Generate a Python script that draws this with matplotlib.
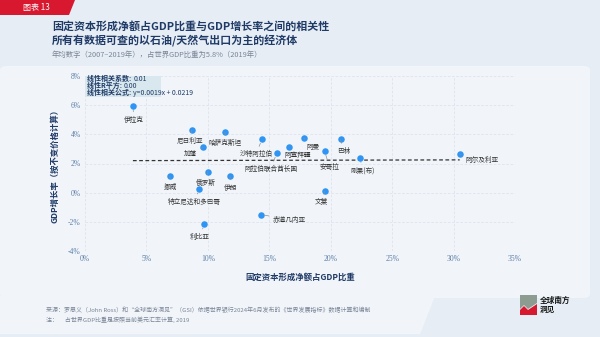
import matplotlib.pyplot as plt
from matplotlib.patches import FancyBboxPatch, Polygon, Rectangle
from matplotlib.ticker import FuncFormatter

plt.rcParams['font.family'] = ['Noto Sans CJK SC', 'DejaVu Sans']

countries = ["伊拉克", "尼日利亚", "哈萨克斯坦", "加蓬", "挪威", "俄罗斯", "伊朗",
             "特立尼达和多巴哥", "利比亚", "赤道几内亚", "沙特阿拉伯", "阿拉伯联合酋长国",
             "阿塞拜疆", "阿曼", "巴林", "安哥拉", "刚果(布)", "文莱", "阿尔及利亚"]
# fixed capital formation, % of GDP
fcf = [3.9, 8.7, 11.4, 9.6, 6.9, 10.0, 11.8, 9.3, 9.7, 14.3, 14.4, 15.6,
       16.6, 17.8, 20.8, 19.5, 22.4, 19.5, 30.5]
# GDP growth, %
growth = [5.95, 4.3, 4.15, 3.1, 1.15, 1.45, 1.15, 0.25, -2.15, -1.5, 3.65, 2.7,
          3.15, 3.75, 3.65, 2.85, 2.4, 0.1, 2.65]
# label offsets in pixels (dx, dy)
offsets = [(1, -14), (-2, -11), (0, -11), (-13, -6), (1, -11), (-2, -11), (1, -12),
           (-5, -13), (-4, -13), (29, -5), (-6, -15), (-6, -16),
           (9, -8), (9, -9), (3, -12), (5, -16), (2, -13), (-3, -11), (22, -6)]

slope, intercept = 0.0019, 0.0219
r_value, r_squared = 0.01, 0.00

navy = "#1f3a66"
tick_col = "#5d7fa8"
dot_col = "#2f95f5"
grey_txt = "#7a8595"

fig = plt.figure(figsize=(6, 3.37), dpi=100)
fig.patch.set_facecolor("#e6edf4")

W, H = 600, 337
def fx(px):
    return px / W
def fy(py):
    return 1 - py / H

# background panels
fig.patches.append(FancyBboxPatch((fx(0), fy(298)), fx(590), fy(66) - fy(298),
                                  boxstyle="round,pad=0,rounding_size=0.012",
                                  transform=fig.transFigure, fc="#f1f5fa", ec="none", zorder=-5))
fig.patches.append(Polygon([(fx(0), fy(296)), (fx(435), fy(296)), (fx(420), fy(334)), (fx(0), fy(334))],
                           closed=True, transform=fig.transFigure, fc="#f1f5fa", ec="none", zorder=-5))

# red tag
fig.patches.append(Polygon([(0, 1), (fx(75), 1), (fx(69), fy(15)), (0, fy(15))],
                           closed=True, transform=fig.transFigure, fc="#d7182f", ec="none"))
fig.text(fx(23), fy(7.5), "图表 13", color="white", fontsize=5.8, va="center", ha="left")

fig.text(fx(52), fy(26), "固定资本形成净额占GDP比重与GDP增长率之间的相关性", color=navy,
         fontsize=7.9, weight="bold", va="center")
fig.text(fx(52), fy(41), "所有有数据可查的以石油/天然气出口为主的经济体", color=navy,
         fontsize=7.9, weight="bold", va="center")
fig.text(fx(52), fy(55), "年均数字（2007–2019年），占世界GDP比重为5.8%（2019年）", color=grey_txt,
         fontsize=5.3, va="center")

ax = fig.add_axes([fx(85), fy(251), fx(515) - fx(85), fy(76) - fy(251)])
ax.set_facecolor("none")
ax.set_xlim(0, 35)
ax.set_ylim(-4, 8)
ax.set_xticks(range(0, 36, 5))
ax.set_yticks(range(-4, 9, 2))
ax.grid(True, color="#dde3ec", lw=0.6, ls=(0, (3, 2)))
for s in ax.spines.values():
    s.set_visible(False)
ax.tick_params(length=0, labelsize=5.5, labelcolor=tick_col, pad=3)
ax.xaxis.set_major_formatter(FuncFormatter(lambda v, p: f"{v:.0f}%"))
ax.yaxis.set_major_formatter(FuncFormatter(lambda v, p: f"{v:.0f}%"))
for t in ax.get_xticklabels() + ax.get_yticklabels():
    t.set_family("Liberation Serif")

# trend line over the data range
x0, x1 = min(fcf), max(fcf)
ax.plot([x0, x1], [(slope * x0 / 100 + intercept) * 100, (slope * x1 / 100 + intercept) * 100],
        color="#333333", lw=0.9, ls=(0, (3, 2)), zorder=2)

ax.scatter(fcf, growth, s=22, color=dot_col, zorder=4, linewidths=0)
for name, x, y, (dx, dy) in zip(countries, fcf, growth, offsets):
    ax.annotate(name, (x, y), xytext=(dx, dy), textcoords="offset pixels",
                ha="center", va="center", fontsize=4.8, color="#333333", zorder=5,
                arrowprops=dict(arrowstyle="-", color="#8a8f96", lw=0.5, shrinkA=1, shrinkB=3))

# regression summary box
ax.add_patch(Rectangle((0, 6.55), 6.2, 1.45, fc="#d9e8ef", ec="none", zorder=3))
stats = [("线性相关系数: ", f"{r_value:.2f}"), ("线性R平方: ", f"{r_squared:.2f}"),
         ("线性相关公式: ", f"y={slope}x + {intercept}")]
for i, (lab, val) in enumerate(stats):
    yy = 7.8 - i * 0.48
    t = ax.text(0.2, yy, lab, fontsize=5, color=navy, weight="bold", va="center", zorder=4)
    ax.annotate(val, xycoords=t, xy=(1, 0.5), va="center", fontsize=5, color=navy, zorder=4)

ax.set_xlabel("固定资本形成净额占GDP比重", color=navy, fontsize=6, weight="bold", labelpad=7)
ax.set_ylabel("GDP增长率（按不变价格计算）", color=navy, fontsize=6, weight="bold", labelpad=6)

fig.text(fx(46), fy(310), "来源：罗思义（John Ross）和“全球南方洞见”（GSI）依据世界银行2024年6月发布的《世界发展指标》数据计算和编制",
         color=grey_txt, fontsize=4.3, va="center")
fig.text(fx(46), fy(320), "注：     占世界GDP比重是按照当前美元汇率计算, 2019", color=grey_txt, fontsize=4.3, va="center")

# logo
fig.patches.append(Polygon([(fx(520), fy(295)), (fx(537), fy(295)), (fx(537), fy(303)),
                            (fx(528), fy(309)), (fx(524), fy(305)), (fx(520), fy(309))],
                           closed=True, transform=fig.transFigure, fc="#8d9c91", ec="none"))
fig.patches.append(Polygon([(fx(520), fy(310)), (fx(524), fy(306)), (fx(528), fy(310)),
                            (fx(537), fy(304)), (fx(537), fy(315)), (fx(520), fy(315))],
                           closed=True, transform=fig.transFigure, fc="#d7182f", ec="none"))
fig.text(fx(540), fy(300), "全球南方", fontsize=5.5, weight="bold", color="#111111", va="center")
fig.text(fx(540), fy(309.5), "洞见", fontsize=5.5, weight="bold", color="#111111", va="center")

fig.savefig("out.png", dpi=100, facecolor=fig.get_facecolor())
